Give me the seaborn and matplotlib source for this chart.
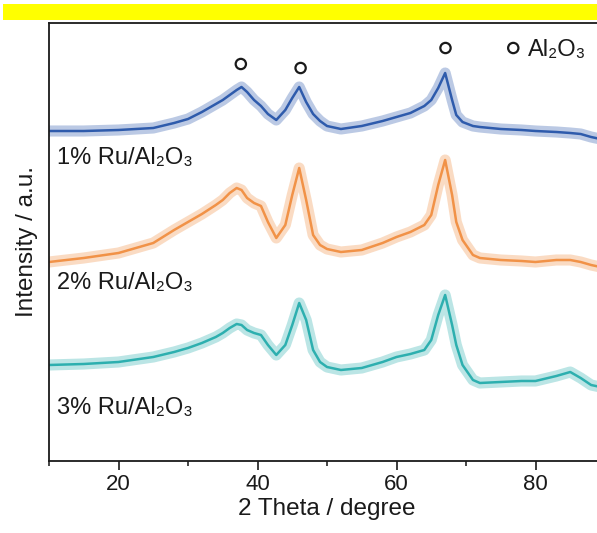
import matplotlib
matplotlib.use("Agg")
import matplotlib.pyplot as plt
from matplotlib.patches import Rectangle
import seaborn as sns
import pandas as pd

# 2-theta positions (degrees) shared by the three patterns
theta = [10, 15, 20, 25, 28, 30, 32, 34, 35, 36, 37, 37.7, 38.5, 39.5, 40.5,
         41.5, 42.7, 44, 45, 46, 47, 48, 49, 50, 52, 55, 58, 60, 62, 64, 65,
         66, 67, 68, 68.6, 69.5, 71, 72, 75, 78, 80, 83, 85, 86.5, 88, 90]

# intensities (a.u., stacked with offsets)
ru1 = [330, 330, 331, 333, 338, 342, 349, 357, 361, 366, 371, 374, 369, 361,
       355, 347, 341, 351, 363, 374, 359, 347, 340, 335, 332, 335, 340, 344,
       348, 355, 361, 373, 388, 361, 346, 339, 335, 334, 332, 331, 330, 329,
       328, 327, 324, 321]
ru2 = [199, 203, 208, 218, 231, 239, 247, 256, 261, 268, 273, 271, 263, 258,
       255, 239, 223, 236, 266, 293, 261, 226, 216, 212, 209, 211, 218, 224,
       229, 236, 246, 276, 301, 266, 239, 221, 206, 203, 201, 200, 199, 201,
       201, 199, 196, 193]
ru3 = [96, 97, 99, 104, 109, 113, 118, 124, 128, 133, 137, 136, 131, 128,
       126, 116, 106, 116, 136, 158, 141, 111, 99, 94, 91, 93, 99, 104, 107,
       111, 121, 146, 166, 136, 116, 96, 81, 78, 79, 80, 80, 85, 89, 83, 76, 73]

sample_names = ["1% Ru/Al\u2082O\u2083", "2% Ru/Al\u2082O\u2083", "3% Ru/Al\u2082O\u2083"]
sample_colors = ["#1f4fa6", "#f08a3a", "#1eaaa9"]
label_y = [303, 178, 53]

# Al2O3 reflections (2-theta, marker height)
al2o3_theta = [37.6, 46.2, 67.05]
al2o3_y = [397, 393, 413]

sns.set_theme(style="ticks")
plt.rcParams["font.family"] = ["Liberation Sans", "DejaVu Sans"]

fig = plt.figure(figsize=(5.97, 5.33), dpi=100)
ax = fig.add_axes([0.0821, 0.1351, 0.9313, 0.8223])

# yellow banner across the top
fig.patches.append(Rectangle((3 / 597, 1 - 20 / 533), 1, 16 / 533,
                             transform=fig.transFigure, facecolor="#ffff00",
                             edgecolor="none", zorder=0))

for vals, color, name, ly in zip([ru1, ru2, ru3], sample_colors, sample_names, label_y):
    df = pd.DataFrame({"theta": theta, "intensity": vals})
    sns.lineplot(data=df, x="theta", y="intensity", ax=ax, color=color,
                 lw=8, alpha=0.3, sort=True)
    sns.lineplot(data=df, x="theta", y="intensity", ax=ax, color=color,
                 lw=1.8, alpha=0.9, sort=True)
    ax.text(11.1, ly, name, fontsize=17, va="center", ha="left", color="#1a1a1a")

sns.scatterplot(x=al2o3_theta, y=al2o3_y, ax=ax, marker="o", s=55,
                facecolor="none", edgecolor="#1a1a1a", linewidth=1.6)
sns.scatterplot(x=[76.8], y=[413], ax=ax, marker="o", s=55,
                facecolor="none", edgecolor="#1a1a1a", linewidth=1.6)
ax.text(78.9, 411, "Al\u2082O\u2083", fontsize=17, va="center", ha="left",
        color="#1a1a1a")

ax.set_xlim(10, 90)
ax.set_ylim(0, 438.3)
ax.set_xticks([20, 40, 60, 80])
ax.set_xticks([10, 30, 50, 70, 90], minor=True)
ax.set_yticks([])
ax.tick_params(axis="x", which="major", direction="out", length=6.5, width=1.2,
               labelsize=16, pad=3, colors="#1a1a1a")
ax.tick_params(axis="x", which="minor", direction="out", length=3.6, width=1.2)
ax.set_xlabel("2 Theta / degree", fontsize=17.5, color="#1a1a1a", labelpad=2)
ax.set_ylabel("Intensity / a.u.", fontsize=17.5, color="#1a1a1a", labelpad=8)
for side in ["left", "bottom", "top", "right"]:
    ax.spines[side].set_visible(True)
    ax.spines[side].set_linewidth(1.3)
    ax.spines[side].set_color("#1a1a1a")

fig.savefig("out.png", dpi=100)
